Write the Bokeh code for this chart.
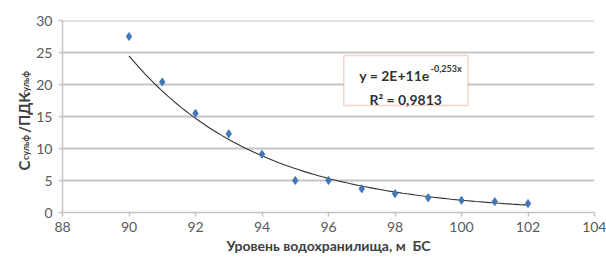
import numpy as np
from bokeh.plotting import figure
from bokeh.layouts import row
from bokeh.models import Label, BoxAnnotation, Range1d, FixedTicker
from bokeh.embed import file_html
from bokeh.resources import INLINE

# data
levels = [90, 91, 92, 93, 94, 95, 96, 97, 98, 99, 100, 101, 102]
ratio = [27.5, 20.4, 15.5, 12.3, 9.1, 5.0, 5.0, 3.7, 2.95, 2.3, 1.9, 1.7, 1.4]
x_ticks = [88, 90, 92, 94, 96, 98, 100, 102, 104]
y_ticks = [0, 5, 10, 15, 20, 25, 30]

FONT = "Lato"
TICK_COLOR = "#595959"
TITLE_COLOR = "#404040"
GRID = "#c4c4c4"
W, H = 606, 262
TOP, BOTTOM = 20, 50
TP_W = 33

# ---- narrow panel holding the rotated y-axis title (pixel coordinates) ----
tp = figure(width=TP_W, height=H, output_backend="svg", toolbar_location=None,
            x_range=Range1d(0, TP_W), y_range=Range1d(0, H - TOP - BOTTOM),
            x_axis_location=None, y_axis_location=None,
            min_border_left=0, min_border_right=0,
            min_border_top=TOP, min_border_bottom=BOTTOM)
tp.outline_line_color = None
tp.grid.visible = False
yt_kw = dict(angle=np.pi / 2, text_font=FONT, text_font_style="bold",
             text_color=TITLE_COLOR, text_align="left",
             text_baseline="alphabetic")
tp.add_layout(Label(x=23, y=42, text="С", text_font_size="15px", **yt_kw))
tp.add_layout(Label(x=25, y=52.5, text="сульф", text_font_size="9px", **yt_kw))
tp.add_layout(Label(x=23, y=79.5, text="/ПДК", text_font_size="15px", **yt_kw))
tp.add_layout(Label(x=25, y=116.5, text="сульф", text_font_size="9px", **yt_kw))

# ---- main chart ----
p = figure(width=W - TP_W, height=H, output_backend="svg", toolbar_location=None,
           x_range=Range1d(x_ticks[0], x_ticks[-1]),
           y_range=Range1d(y_ticks[0], y_ticks[-1]),
           min_border_left=59 - TP_W, min_border_right=12, min_border_top=TOP,
           min_border_bottom=BOTTOM)
p.outline_line_color = None
p.background_fill_color = "white"
p.border_fill_color = "white"

p.xaxis.ticker = FixedTicker(ticks=x_ticks)
p.yaxis.ticker = FixedTicker(ticks=y_ticks)
p.grid.visible = False

# horizontal gridlines at the y ticks
gy = y_ticks[1:]
p.segment(x0=[x_ticks[0]] * len(gy), x1=[x_ticks[-1]] * len(gy), y0=gy, y1=gy,
          line_color=GRID, line_width=2)

for ax in (p.xaxis[0], p.yaxis[0]):
    ax.axis_line_color = GRID
    ax.axis_line_width = 1.5
    ax.major_tick_line_color = GRID
    ax.major_tick_line_width = 1.5
    ax.major_tick_out = 4
    ax.major_tick_in = 0
    ax.minor_tick_line_color = None
    ax.major_label_text_font = FONT
    ax.major_label_text_font_size = "14px"
    ax.major_label_text_color = TICK_COLOR
p.yaxis.major_label_standoff = 6
p.xaxis.major_label_standoff = 5

p.xaxis.axis_label = "Уровень водохранилища, м \u00a0БС"
p.xaxis.axis_label_text_font = FONT
p.xaxis.axis_label_text_font_style = "bold"
p.xaxis.axis_label_text_font_size = "14px"
p.xaxis.axis_label_text_color = TITLE_COLOR
p.xaxis.axis_label_standoff = 2

# fitted exponential trendline (least squares on log values, like Excel)
xs = np.array(levels, dtype=float)
b, a = np.polyfit(xs, np.log(np.array(ratio)), 1)
xt = np.linspace(xs.min(), xs.max(), 100)
p.line(xt, np.exp(a) * np.exp(b * xt), line_color="#333333", line_width=1.1)

p.scatter(levels, ratio, marker="diamond", size=8, fill_color="#4377b8",
          line_color="#4377b8")

# equation box
p.add_layout(BoxAnnotation(left=96.46, right=100.2, bottom=16.72, top=24.53,
                           fill_color="white", fill_alpha=1,
                           line_color="#e0704e", line_width=1.5, level="overlay"))
eq_kw = dict(text_font=FONT, text_font_style="bold", text_color="#333333",
             level="overlay")
p.add_layout(Label(x=99.04, y=21.41, text="y = 2E+11e", text_align="right",
                   text_baseline="alphabetic", text_font_size="14px", **eq_kw))
p.add_layout(Label(x=99.07, y=22.5, text="-0,253x", text_align="left",
                   text_baseline="alphabetic", text_font_size="9px", **eq_kw))
p.add_layout(Label(x=98.32, y=17.66, text="R² = 0,9813", text_align="center",
                   text_baseline="alphabetic", text_font_size="14px", **eq_kw))

open("out.html", "w").write(file_html(row(tp, p), INLINE))
